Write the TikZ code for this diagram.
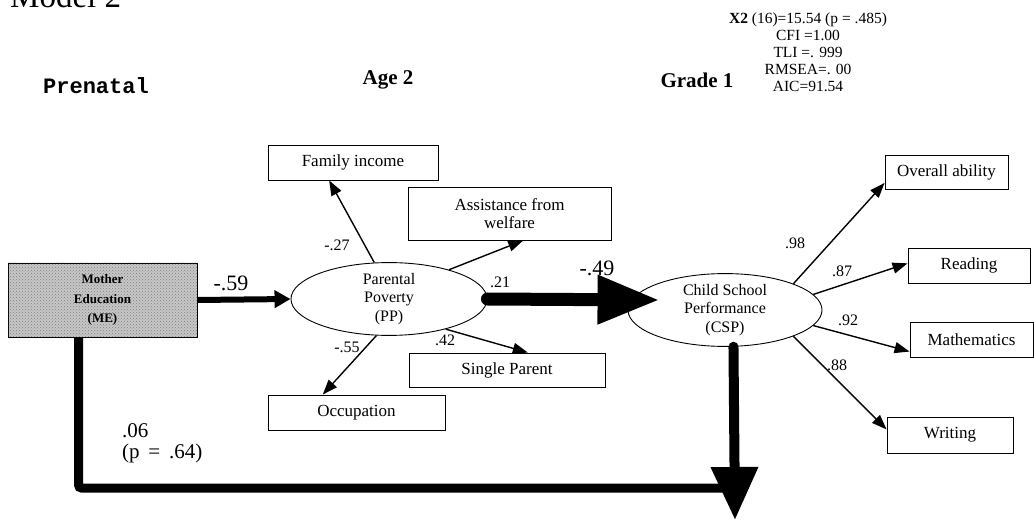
\documentclass[tikz,border=0pt]{standalone}
\usepackage{fontspec}
\setmainfont{Liberation Serif}
\newfontfamily\monob{Liberation Mono}
\usetikzlibrary{arrows.meta,patterns,shapes.geometric,calc}
\begin{document}
\begin{tikzpicture}[x=1pt,y=-1pt,
  box/.style={draw, line width=0.9pt, minimum height=35pt, inner sep=0pt, align=center, font=\fontsize{17}{18.5}\selectfont},
  ell/.style={draw, ellipse, line width=0.9pt, inner sep=0pt, align=center, font=\fontsize{16}{18.5}\selectfont},
  lbl/.style={inner sep=0pt, font=\fontsize{16}{18}\selectfont},
  big/.style={inner sep=0pt, font=\fontsize{22}{24}\selectfont},
  head/.style={inner sep=0pt, font=\bfseries\fontsize{21}{24}\selectfont},
  arr/.style={line width=1.4pt, -{Triangle[length=15pt,width=11pt]}},
]
\useasboundingbox (0,0) rectangle (1034,521);

% titles
\node[anchor=base west, inner sep=0pt, font=\fontsize{33}{35}\selectfont] (title) at (10,8) {Model 2};
\node[inner sep=0pt, font=\monob\bfseries\fontsize{22}{24}\selectfont] (pre) at (96,86) {Prenatal};
\node[head] (age) at (388,80) {Age 2};
\node[head] (grade) at (697,80) {Grade 1};
\node[align=center, inner sep=0pt, font=\fontsize{15.5}{17}\selectfont] (fit) at (808,52)
  {\textbf{X2} (16)=15.54 (p = .485)\\CFI =1.00\\TLI =. 999\\RMSEA=. 00\\AIC=91.54};

% main nodes
\node[draw, line width=0.9pt, minimum width=189pt, minimum height=74pt, inner sep=0pt,
      fill=black!22, postaction={pattern=crosshatch dots, pattern color=black!50},
      align=center, font=\bfseries\fontsize{13}{19.5}\selectfont] (me) at (102.5,300)
  {Mother\\Education\\(ME)};
\node[ell, minimum width=196pt, minimum height=66pt] (pp) at (389,299) {Parental\\Poverty\\(PP)};
\node[ell, minimum width=194pt, minimum height=66pt] (csp) at (725,310) {Child School\\Performance\\(CSP)};

% indicator boxes
\node[box, minimum width=170pt] (fam) at (353,162.5) {Family income};
\node[box, minimum width=203pt, minimum height=53pt] (assist) at (509.5,213.5) {Assistance from\\welfare};
\node[box, minimum width=196pt, minimum height=34pt] (single) at (507,370) {Single Parent};
\node[box, minimum width=177pt] (occ) at (356.5,412.5) {Occupation};
\node[box, minimum width=123pt, minimum height=34pt] (over) at (946.5,172) {Overall ability};
\node[box, minimum width=122pt] (read) at (969,265.5) {Reading};
\node[box, minimum width=123pt] (math) at (971.5,339.5) {Mathematics};
\node[box, minimum width=126pt, minimum height=36pt] (writ) at (950,435) {Writing};

% free ends
\coordinate (bot) at (735,520);
\coordinate (join) at (733,488);

% structural paths
\draw[line width=6pt, -{Triangle[length=16pt,width=17pt]}] (me.east) -- (pp.west);
\draw[line width=13pt, line cap=round, -{Triangle[length=62pt,width=46pt]}] (pp.east) -- ($(csp.west)+(32,-10)$);
\draw[line width=10pt, line cap=round, -{Triangle[length=53pt,width=45pt]}] (csp.283) -- (bot);
\draw[line width=9pt, rounded corners=3pt] ($(me.south west)+(71,0)$) |- (join);

% measurement arrows
\draw[arr] (pp.112) -- (fam.217);
\draw[arr] (pp.26) -- (assist.297);
\draw[arr] (pp.332) -- (single.40);
\draw[arr] (pp.251) -- (occ.152);
\draw[arr] (csp.21) -- (over.190);
\draw[arr] (csp.10) -- (read.178);
\draw[arr] (csp.350) -- (math.191);
\draw[arr] (csp.339) -- (writ.175);

% coefficient labels
\node[big] (l59) at (231,283) {-.59};
\node[big] (l49) at (597,268) {-.49};
\node[lbl] (l21) at (500,282) {.21};
\node[lbl] (l27) at (337,245) {-.27};
\node[lbl] (l55) at (347,347) {-.55};
\node[lbl] (l42) at (445,340) {.42};
\node[lbl] (l98) at (795,243) {.98};
\node[lbl] (l87) at (842,271) {.87};
\node[lbl] (l92) at (848,320) {.92};
\node[lbl] (l88) at (837,365) {.88};
\node[anchor=west, inner sep=0pt, font=\fontsize{21}{23}\selectfont] (l06) at (122,431) {.06};
\node[anchor=west, inner sep=0pt, font=\fontsize{21}{23}\selectfont] (lp) at (122,453) {(p \,= \,.64)};
\end{tikzpicture}
\end{document}
